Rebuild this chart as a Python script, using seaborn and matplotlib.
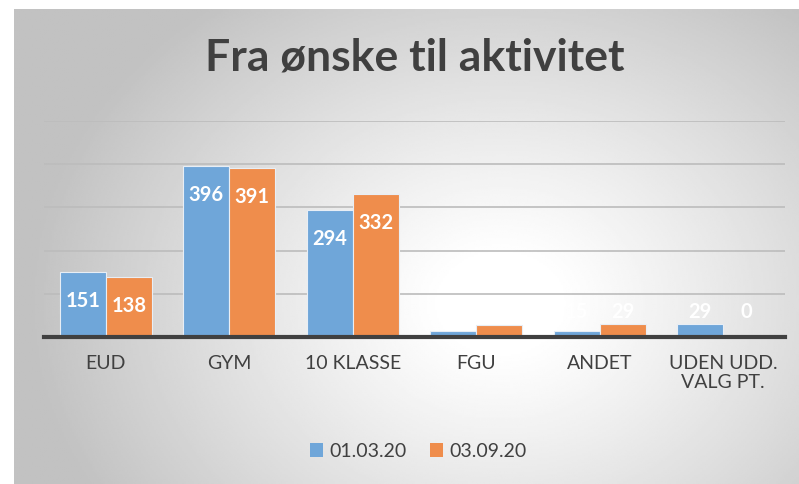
import numpy as np
import pandas as pd
import matplotlib
matplotlib.use('Agg')
import matplotlib.pyplot as plt
import seaborn as sns

# data
kategorier = ['EUD', 'GYM', '10 KLASSE', 'FGU', 'ANDET', 'UDEN UDD.\nVALG PT.']
antal_0103 = [151, 396, 294, 14, 15, 29]
antal_0309 = [138, 391, 332, 27, 29, 0]
datoer = ['01.03.20', '03.09.20']
farver = ['#6fa6d9', '#ef8d4c']

df = pd.DataFrame({
    'kategori': kategorier * 2,
    'antal': antal_0103 + antal_0309,
    'dato': [datoer[0]] * len(kategorier) + [datoer[1]] * len(kategorier),
})

sns.set_theme(style='white')
plt.rcParams['font.family'] = ['Lato', 'DejaVu Sans']
tekst = '#404040'

W, H = 799, 485
fig = plt.figure(figsize=(W / 100, H / 100), dpi=100)
fig.patch.set_facecolor('white')

# gradient background of the chart box (light centre, grey edges)
bg = fig.add_axes([14 / W, 0, (W - 14) / W, (H - 10) / H])
xx, yy = np.meshgrid(np.linspace(0, 1, 400), np.linspace(0, 1, 250))
d = np.sqrt(((xx - 0.62) / 0.6) ** 2 + ((yy - 0.62) / 0.8) ** 2)
shade = 1 - 0.24 * np.clip((d - 0.12) / 0.88, 0, 1) ** 1.1
bg.imshow(shade, cmap='gray', vmin=0, vmax=1, aspect='auto', extent=[0, 1, 0, 1])
bg.set_axis_off()

ax = fig.add_axes([44 / W, 1 - 338 / H, (785 - 44) / W, (338 - 122) / H])
ax.patch.set_alpha(0)
sns.barplot(data=df, x='kategori', y='antal', hue='dato', palette=farver,
            saturation=1, width=0.745, ax=ax, edgecolor='#e8eef5', linewidth=0.8,
            legend=False, zorder=3)

ax.set_ylim(0, 500)
ax.set_yticks([100, 200, 300, 400, 500])
ax.yaxis.grid(True, color='#bcbcbc', linewidth=1.2, zorder=0)
ax.set_yticklabels([])
ax.tick_params(axis='y', length=0)
ax.tick_params(axis='x', length=0, labelsize=14, labelcolor=tekst, pad=12)
for s in ['top', 'right', 'left']:
    ax.spines[s].set_visible(False)
ax.spines['bottom'].set_color('#404040')
ax.spines['bottom'].set_linewidth(3)
ax.spines['bottom'].set_zorder(5)
ax.set_xlabel('')
ax.set_ylabel('')
ax.set_xlim(-0.5, len(kategorier) - 0.5)

# data labels
for container in ax.containers:
    for bar in container:
        v = bar.get_height()
        x = bar.get_x() + bar.get_width() / 2
        y = v - 65 if v > 100 else 60
        ax.text(x, y, f'{v:.0f}', ha='center', va='center', color='white',
                fontsize=14.5, fontweight='bold', zorder=6)

fig.text(415 / W, 1 - 57 / H, 'Fra ønske til aktivitet', ha='center', va='center',
         fontsize=32, fontweight='bold', color=tekst)

# legend
handles = [plt.Rectangle((0, 0), 1, 1, facecolor=c, edgecolor='none') for c in farver]
fig.legend(handles, datoer, loc='center', bbox_to_anchor=(418 / W, 1 - 452 / H),
           ncol=2, frameon=False, fontsize=14, labelcolor=tekst,
           handlelength=0.7, handleheight=0.7, handletextpad=0.3, columnspacing=1.2)

fig.savefig('out.png', dpi=100)
